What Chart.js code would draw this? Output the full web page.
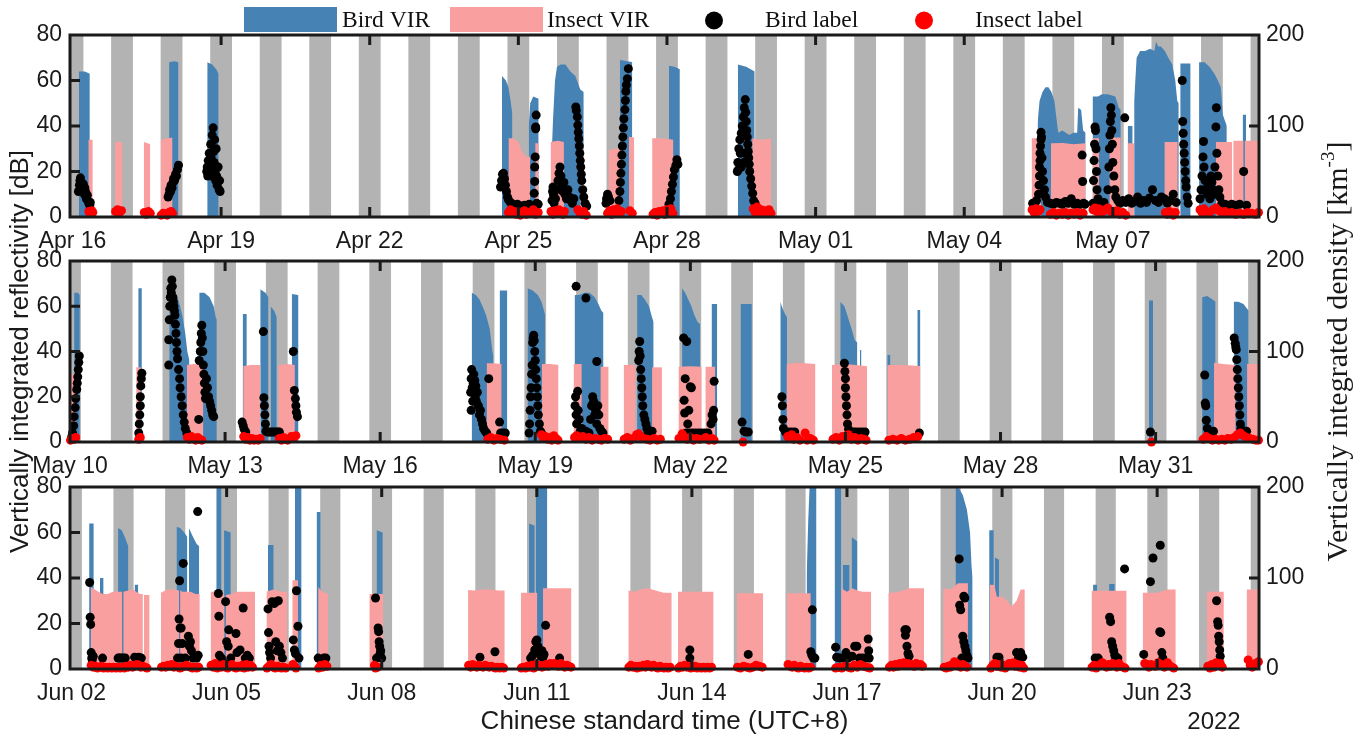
<!DOCTYPE html>
<html>
<head>
<meta charset="utf-8">
<title>Bird and insect VIR, spring 2022</title>
<script src="https://cdn.jsdelivr.net/npm/chart.js@4.4.1/dist/chart.umd.min.js"></script>
<style>
  html, body { margin: 0; padding: 0; background: #fff; }
  .layer { position: absolute; left: 0; top: 0; width: 1364px; height: 739px; }
</style>
</head>
<body>
<div class="layer"><canvas id="panel1" width="1364" height="739"></canvas></div>
<div class="layer"><canvas id="panel2" width="1364" height="739"></canvas></div>
<div class="layer"><canvas id="panel3" width="1364" height="739"></canvas></div>
<script>
// x values are days since the first date of each row (Apr 16, May 10, Jun 02)
const tickDays = [0, 3, 6, 9, 12, 15, 18, 21];
const ticksApr = ['Apr 16', 'Apr 19', 'Apr 22', 'Apr 25', 'Apr 28', 'May 01', 'May 04', 'May 07'];
const ticksMay = ['May 10', 'May 13', 'May 16', 'May 19', 'May 22', 'May 25', 'May 28', 'May 31'];
const ticksJun = ['Jun 02', 'Jun 05', 'Jun 08', 'Jun 11', 'Jun 14', 'Jun 17', 'Jun 20', 'Jun 23'];

// VIR in dB, one sub-array per continuous run of [day, value]
const birdVir1 = [
  [[0.13,64],[0.25,64],[0.35,63]],
  [[1.95,68],[2.05,68.5],[2.14,68]],
  [[2.72,68],[2.82,67],[2.90,65],[2.95,63]],
  [[8.67,62],[8.75,60],[8.80,57],[8.85,50],[8.88,45]],
  [[9.21,40],[9.24,50],[9.30,53],[9.41,52]],
  [[9.68,32],[9.70,43],[9.74,60],[9.78,66],[9.85,67],[9.95,67],[10.05,64],[10.15,62],[10.25,56],[10.32,55]],
  [[11.05,69],[11.20,68.5],[11.30,68]],
  [[12.04,66.5],[12.15,66],[12.26,65]],
  [[13.43,67],[13.60,66],[13.77,64]],
  [[19.48,41],[19.52,51],[19.58,55],[19.64,57],[19.70,57],[19.76,55],[19.82,51],[19.88,40],[19.90,37],[19.98,38],[20.05,37],[20.12,36],[20.20,37],[20.28,37],[20.30,48],[20.36,47],[20.40,38],[20.45,37]],
  [[20.59,53],[20.70,53],[20.78,54],[20.90,54],[21.05,53],[21.12,48],[21.16,47]],
  [[21.30,40],[21.40,40]],
  [[21.43,51],[21.48,70],[21.55,73],[21.65,73],[21.75,74],[21.84,73],[21.87,77],[21.92,75],[21.97,75],[22.05,73],[22.12,70],[22.20,67],[22.26,60],[22.30,51],[22.33,50]],
  [[22.36,67.5],[22.57,67.5]],
  [[22.74,68],[22.85,68],[22.95,66],[23.05,63],[23.12,60],[23.18,57],[23.22,45],[23.30,40]],
  [[23.62,45],[23.69,45]]
];
const insectVir1 = [
  [[0.32,34],[0.41,34]],
  [[0.86,33],[1.01,33]],
  [[1.44,33],[1.50,32.5],[1.57,32]],
  [[1.78,34],[1.90,34.5],[2.02,35]],
  [[8.80,34.6],[8.90,34.6],[9.00,33],[9.05,30],[9.12,27],[9.20,26.5],[9.24,26.5]],
  [[9.34,32.4],[9.41,32.4]],
  [[9.65,33],[9.80,33.5],[9.92,33]],
  [[10.25,30],[10.32,30]],
  [[10.82,29.5],[10.95,30],[11.06,30]],
  [[11.23,35.3],[11.34,35]],
  [[11.70,34.6],[11.90,34.6],[12.13,34]],
  [[13.72,34.6],[13.90,34],[14.10,34.5]],
  [[19.36,34.6],[19.55,34.6]],
  [[19.75,32.4],[20.00,32.5],[20.20,32],[20.45,32.4]],
  [[20.59,34.6],[20.72,34.6]],
  [[20.93,35],[21.16,35]],
  [[21.30,32.4],[21.43,32.4]],
  [[22.04,33],[22.31,33]],
  [[23.08,33],[23.35,33],[23.41,33]],
  [[23.43,33.5],[23.64,33.5]],
  [[23.66,33.5],[23.95,33.5]]
];
// labels as [day, density km^-3]
const birdLabel1 = [
  [0.12,28],[0.14,35],[0.15,40],[0.16,43],[0.18,38],[0.19,33],[0.21,30],[0.22,36],[0.24,25],[0.25,32],[0.27,27],[0.28,20],[0.30,24],[0.31,18],[0.33,15],[0.35,13],[0.36,16],
  [1.93,22],[1.95,25],[1.96,30],[1.98,28],[1.99,35],[2.01,32],[2.03,38],[2.04,42],[2.06,40],[2.08,47],[2.10,45],[2.12,52],[2.14,57],
  [2.71,50],[2.72,55],[2.73,45],[2.74,62],[2.75,48],[2.76,70],[2.77,58],[2.78,52],[2.79,80],[2.80,65],[2.81,45],[2.82,90],[2.83,55],[2.84,98],[2.85,72],[2.86,60],[2.87,85],[2.88,50],[2.89,40],[2.90,75],[2.91,45],[2.92,35],[2.94,55],[2.96,30],[2.97,40],[2.98,28],
  [8.64,33],[8.66,40],[8.68,47],[8.70,48],[8.72,42],[8.74,35],[8.76,28],[8.78,22],[8.80,19],[8.84,16],[8.88,14],[8.93,13],[8.98,14],[9.03,12],[9.08,12],[9.13,13],[9.18,12],[9.22,14],[9.32,26],[9.33,39],[9.33,55],[9.34,66],[9.35,97],[9.35,99],[9.36,112],[9.37,15],[9.40,14],
  [9.68,18],[9.69,28],[9.70,33],[9.71,24],[9.72,15],[9.75,20],[9.77,30],[9.80,40],[9.82,48],[9.84,55],[9.86,45],[9.88,35],[9.90,28],[9.92,38],[9.94,25],[9.97,20],[10.00,30],[10.03,22],[10.06,18],[10.09,15],[10.12,20],[10.16,121],[10.17,117],[10.19,110],[10.20,101],[10.21,93],[10.22,86],[10.23,78],[10.24,70],[10.25,62],[10.26,55],[10.27,47],[10.28,40],[10.30,30],[10.32,22],[10.35,15],[10.38,12],
  [10.77,15],[10.78,20],[10.80,25],[10.82,22],[10.85,18],[11.03,18],[11.05,28],[11.06,38],[11.07,48],[11.08,58],[11.09,68],[11.10,78],[11.11,88],[11.12,98],[11.13,108],[11.15,118],[11.16,128],[11.17,138],[11.18,145],[11.20,152],[11.22,163],
  [12.04,14],[12.07,20],[12.09,28],[12.11,36],[12.13,44],[12.15,52],[12.18,57],[12.20,63],[12.22,58],
  [13.42,50],[13.43,60],[13.44,52],[13.45,75],[13.47,85],[13.48,70],[13.50,92],[13.50,55],[13.52,100],[13.54,110],[13.55,60],[13.56,120],[13.57,70],[13.58,129],[13.59,115],[13.60,105],[13.61,95],[13.62,88],[13.63,80],[13.64,72],[13.65,65],[13.66,58],[13.67,50],[13.69,42],[13.71,34],[13.73,26],[13.75,18],[13.78,15],
  [19.38,15],[19.42,14],[19.46,18],[19.50,25],[19.51,35],[19.52,45],[19.52,55],[19.53,62],[19.53,70],[19.54,78],[19.55,85],[19.55,93],[19.56,88],[19.57,65],[19.58,50],[19.60,40],[19.62,30],[19.64,22],[19.68,16],[19.74,15],[19.80,14],[19.86,16],[19.92,15],[19.98,14],[20.04,17],[20.10,15],[20.16,20],[20.22,14],[20.28,15],[20.34,14],[20.38,68],[20.39,39],[20.41,15],[20.44,14],
  [20.60,15],[20.61,40],[20.62,62],[20.63,80],[20.64,99],[20.65,95],[20.66,75],[20.67,50],[20.68,30],[20.70,20],[20.75,15],[20.82,16],[20.90,30],[20.92,55],[20.93,75],[20.94,90],[20.95,105],[20.96,120],[20.97,112],[20.98,95],[20.99,80],[21.00,60],[21.02,45],[21.04,30],[21.06,22],[21.10,18],[21.14,15],[21.20,18],[21.24,109],[21.26,16],[21.32,20],[21.38,15],[21.44,17],[21.50,22],[21.56,15],[21.62,18],[21.68,16],[21.74,21],[21.80,30],[21.86,18],[21.92,16],[21.98,22],[22.04,20],[22.10,15],[22.16,18],[22.22,25],[22.28,16],
  [22.40,150],[22.41,105],[22.42,92],[22.43,80],[22.44,70],[22.45,60],[22.46,50],[22.47,40],[22.48,33],[22.50,22],[22.52,15],
  [22.76,20],[22.78,30],[22.80,45],[22.82,66],[22.83,83],[22.84,55],[22.86,40],[22.88,30],[22.90,25],[22.92,35],[22.94,28],[22.96,20],[22.98,45],[23.00,38],[23.02,30],[23.04,25],[23.06,55],[23.08,99],[23.09,120],[23.10,70],[23.12,45],[23.14,30],[23.16,22],[23.20,15],[23.26,14],[23.32,13],[23.40,14],[23.48,13],[23.56,14],[23.64,50],[23.70,13]
];
const insectLabel1 = [
  [0.33,6],[0.36,4],[0.39,7],[0.41,5],
  [0.87,6],[0.91,8],[0.95,5],[0.99,7],
  [1.45,5],[1.49,3],[1.53,6],[1.57,4],
  [1.79,2],[1.83,4],[1.87,3],[1.91,2],[1.95,5],[1.99,6],[2.02,4],
  [8.80,5],[8.84,8],[8.88,4],[8.92,6],[8.96,3],[9.00,5],[9.04,2],[9.08,4],[9.12,7],[9.16,3],[9.20,5],[9.25,4],[9.30,8],[9.35,3],[9.40,5],
  [9.66,6],[9.70,3],[9.74,7],[9.78,4],[9.82,8],[9.86,5],[9.90,3],[9.93,6],
  [10.20,8],[10.24,5],[10.28,3],[10.32,6],[10.37,2],
  [10.80,4],[10.84,7],[10.88,3],[10.92,8],[10.96,5],[11.00,9],[11.04,4],[11.08,6],
  [11.25,7],[11.30,4],
  [11.72,3],[11.76,5],[11.80,2],[11.84,6],[11.88,4],[11.92,7],[11.96,3],[12.00,8],[12.04,5],[12.08,9],[12.12,4],
  [13.74,9],[13.78,5],[13.82,11],[13.86,6],[13.90,8],[13.94,4],[13.98,7],[14.02,5],[14.06,8],[14.10,4],
  [19.37,8],[19.41,5],[19.45,9],[19.49,6],[19.53,8],
  [19.74,3],[19.80,5],[19.86,2],[19.92,4],[19.98,3],[20.04,5],[20.10,2],[20.16,4],[20.22,3],[20.28,5],[20.34,2],[20.40,4],
  [20.60,8],[20.64,10],[20.68,6],[20.72,9],[20.78,5],[20.84,8],[20.90,10],[20.96,6],[21.02,4],[21.08,7],[21.14,3],[21.20,5],[21.26,2],
  [22.06,5],[22.10,3],[22.14,6],[22.18,4],[22.22,2],[22.26,5],
  [22.76,8],[22.80,5],[22.84,9],[22.88,6],[22.95,4],[23.02,8],[23.08,10],[23.14,7],[23.20,5],[23.26,6],[23.32,4],[23.40,5],[23.48,3],[23.56,4],[23.64,3],[23.72,5],[23.80,4],[23.88,3],[23.94,5]
];

const birdVir2 = [
  [[0.08,66],[0.15,66],[0.19,65]],
  [[1.32,68],[1.39,68]],
  [[1.92,70],[1.97,68],[2.03,66],[2.08,64],[2.13,60],[2.18,55],[2.23,48],[2.27,40],[2.31,36]],
  [[2.50,66],[2.60,66],[2.70,64],[2.78,60],[2.82,55],[2.84,54]],
  [[3.34,56.6],[3.42,56.6]],
  [[3.68,67.5],[3.78,66],[3.84,64]],
  [[3.88,60],[3.95,58],[4.00,55]],
  [[4.29,65.4],[4.42,65]],
  [[7.77,66],[7.85,65],[7.92,63],[7.98,60],[8.05,56],[8.12,50],[8.17,40],[8.19,38]],
  [[8.31,67],[8.46,67]],
  [[8.85,68],[8.95,67],[9.05,65],[9.12,62],[9.17,58],[9.19,56]],
  [[9.76,65],[9.85,65],[9.95,66],[10.05,66],[10.15,64],[10.22,61],[10.28,58],[10.32,57]],
  [[10.97,65],[11.05,65],[11.12,63],[11.20,60],[11.26,55],[11.29,53]],
  [[11.84,68],[11.90,66],[11.96,63],[12.02,60],[12.08,56],[12.14,53],[12.19,52]],
  [[12.41,61],[12.52,61]],
  [[12.97,61],[13.19,61]],
  [[13.74,62],[13.80,58],[13.87,55]],
  [[14.90,62],[14.98,60],[15.05,55],[15.12,50],[15.18,45],[15.23,44]],
  [[15.28,40.7],[15.31,40.7]],
  [[15.81,38.5],[15.87,38.5]],
  [[16.39,58.3],[16.45,58.3]],
  [[20.87,62.5],[20.95,62.5]],
  [[21.90,64],[22.00,64.5],[22.10,63],[22.16,62]],
  [[22.51,62],[22.60,62],[22.70,61],[22.80,58]]
];
const insectVir2 = [
  [[0.00,30],[0.12,30]],
  [[1.28,33],[1.37,33]],
  [[2.26,34],[2.40,34.5],[2.58,34]],
  [[3.35,33.6],[3.50,34],[3.68,34]],
  [[4.03,34],[4.20,34.5],[4.35,34]],
  [[8.06,34.8],[8.20,34.8],[8.35,34.5]],
  [[9.13,34.5],[9.30,34.5],[9.45,34]],
  [[9.74,34.5],[9.90,34.5]],
  [[10.26,33.3],[10.42,33.3]],
  [[10.71,34],[10.94,34]],
  [[11.26,33],[11.45,33]],
  [[11.77,33.3],[12.00,33.5],[12.22,33.3]],
  [[12.29,33.3],[12.48,33.3]],
  [[13.86,34.5],[14.10,35],[14.42,34.5]],
  [[14.74,34],[15.00,34.5],[15.20,34],[15.42,33.5]],
  [[15.81,34],[16.10,34],[16.45,33.6]],
  [[22.13,35],[22.30,34.5],[22.55,34]],
  [[22.77,34.5],[23.00,34.5]]
];
const birdLabel2 = [
  [0.03,5],[0.05,10],[0.07,18],[0.08,28],[0.10,38],[0.11,48],[0.13,58],[0.14,65],[0.15,72],[0.16,80],[0.17,88],[0.18,95],
  [1.33,10],[1.34,20],[1.35,30],[1.36,40],[1.36,50],[1.37,62],[1.38,70],[1.39,76],
  [1.91,85],[1.91,113],[1.92,135],[1.93,150],[1.94,160],[1.95,170],[1.96,165],[1.97,179],[1.98,172],[1.99,160],[2.00,155],[2.01,150],[2.02,145],[2.03,140],[2.04,130],[2.05,120],[2.06,110],[2.07,100],[2.08,92],[2.10,80],[2.12,70],[2.13,60],[2.15,50],[2.17,40],[2.19,30],[2.21,22],[2.23,15],[2.26,10],
  [2.49,25],[2.50,90],[2.52,100],[2.53,110],[2.54,120],[2.55,129],[2.56,115],[2.57,100],[2.58,85],[2.59,75],[2.60,65],[2.61,55],[2.62,48],[2.64,70],[2.66,60],[2.68,50],[2.70,45],[2.72,40],[2.74,35],[2.76,30],[2.78,28],
  [3.33,22],[3.35,18],[3.37,14],[3.40,11],
  [3.74,122],[3.75,49],[3.76,40],[3.77,30],[3.78,20],[3.79,12],
  [3.82,11],[3.86,11],[3.90,11],[3.94,11],[3.98,11],[4.02,11],[4.05,11],
  [4.32,100],[4.34,57],[4.36,48],[4.37,40],[4.38,33],[4.40,28],
  [7.75,55],[7.76,70],[7.76,35],[7.77,80],[7.78,60],[7.79,45],[7.80,65],[7.81,75],[7.82,58],[7.83,68],[7.84,50],[7.85,62],[7.86,45],[7.88,55],[7.90,40],[7.92,30],[7.94,35],[7.96,25],[7.98,20],[8.00,15],[8.03,12],[8.06,10],[8.10,70],
  [8.31,22],[8.33,10],[8.38,10],[8.42,10],
  [8.88,10],[8.89,20],[8.90,35],[8.91,50],[8.92,60],[8.93,75],[8.94,85],[8.95,110],[8.96,115],[8.97,118],[8.98,112],[8.99,100],[9.00,90],[9.01,80],[9.02,70],[9.03,60],[9.04,50],[9.05,40],[9.06,30],[9.08,20],[9.10,12],[9.12,10],
  [9.79,172],[9.98,159],[10.19,89],[9.77,40],[9.78,50],[9.79,30],[9.80,20],[9.82,56],[9.83,35],[9.85,25],[9.87,12],[9.90,15],[9.93,10],[9.98,12],[10.04,10],[10.07,25],[10.09,40],[10.11,50],[10.13,45],[10.15,30],[10.17,35],[10.19,20],[10.21,40],[10.23,30],[10.25,15],[10.28,12],[10.31,10],
  [11.00,90],[11.01,100],[11.02,111],[11.03,95],[11.04,80],[11.05,70],[11.06,60],[11.07,50],[11.08,40],[11.10,30],[11.12,25],[11.14,20],[11.16,15],[11.18,10],[11.22,10],[11.26,12],
  [11.87,115],[11.88,46],[11.89,32],[11.90,70],[11.92,10],[11.93,111],[11.95,20],[11.97,35],[11.98,10],[12.00,61],[12.02,60],[12.04,10],[12.10,10],[12.16,10],[12.22,10],[12.28,10],[12.34,10],[12.40,20],[12.42,30],[12.44,25],[12.45,35],[12.46,67],
  [13.00,22],[13.04,12],[13.08,11],[13.12,11],
  [13.77,50],[13.78,40],[13.79,25],[13.80,15],[13.84,11],[13.90,11],[13.96,11],[14.02,11],
  [14.98,87],[14.99,78],[15.00,70],[15.00,60],[15.01,50],[15.02,40],[15.03,30],[15.04,20],[15.06,14],[15.10,11],[15.15,11],[15.20,11],[15.26,11],[15.32,11],[15.38,11],
  [16.43,10],[20.90,11],
  [21.95,74],[21.96,43],[21.97,40],[21.98,24],[22.00,15],[22.03,10],[22.06,12],[22.09,10],[22.12,12],
  [22.52,115],[22.54,109],[22.55,105],[22.56,102],[22.57,91],[22.58,80],[22.59,70],[22.60,60],[22.61,50],[22.62,40],[22.63,30],[22.64,20],[22.65,15],[22.68,12],[22.72,10],[22.76,12]
];
const insectLabel2 = [
  [0.01,2],[0.04,4],[0.08,3],[0.11,5],
  [1.33,3],[1.36,5],
  [2.27,5],[2.31,3],[2.35,6],[2.39,4],[2.43,2],[2.47,5],[2.51,3],[2.55,2],
  [3.36,6],[3.40,3],[3.44,5],[3.48,2],[3.52,4],[3.56,2],[3.60,3],[3.64,2],[3.68,4],
  [4.05,4],[4.09,2],[4.13,5],[4.17,3],[4.21,2],[4.28,6],[4.32,4],[4.37,7],
  [8.08,3],[8.14,5],[8.20,2],[8.26,4],[8.32,3],[8.40,2],
  [9.12,8],[9.16,4],[9.20,6],[9.24,3],[9.28,5],[9.32,2],[9.36,7],[9.40,4],[9.44,2],
  [9.76,5],[9.80,7],[9.86,4],[9.92,6],[9.98,3],[10.04,5],[10.10,2],[10.16,4],[10.22,3],[10.28,2],[10.34,4],[10.40,3],
  [10.72,3],[10.78,5],[10.84,2],[10.90,4],[10.96,8],[11.00,9],[11.04,6],[11.10,4],[11.16,3],[11.22,2],[11.30,4],[11.36,2],[11.42,3],
  [11.78,4],[11.84,9],[11.88,6],[11.94,3],[12.00,5],[12.06,2],[12.12,4],[12.18,3],[12.30,5],[12.36,2],[12.42,4],[12.46,2],
  [13.02,0],
  [13.88,6],[13.92,4],[13.96,8],[14.00,3],[14.06,5],[14.12,2],[14.22,10],[14.26,2],[14.32,4],[14.38,2],
  [14.76,3],[14.82,5],[14.88,2],[14.94,6],[15.00,4],[15.06,8],[15.12,3],[15.18,5],[15.24,2],[15.30,4],[15.36,3],[15.40,2],
  [15.84,2],[15.92,3],[16.00,2],[16.08,4],[16.16,2],[16.24,3],[16.32,5],[16.40,6],
  [20.92,0],
  [21.92,3],[21.98,6],[22.04,4],[22.10,2],[22.16,3],[22.22,2],[22.28,3],[22.34,2],[22.40,4],[22.46,3],[22.52,5],[22.58,8],[22.64,10],[22.70,7],[22.76,5],[22.82,4],[22.88,3],[22.94,2],[22.99,2]
];

const birdVir3 = [
  [[0.34,64],[0.43,64]],
  [[0.55,40],[0.62,40]],
  [[0.90,62],[0.97,61],[1.03,58],[1.08,55],[1.10,54]],
  [[1.22,37],[1.29,37]],
  [[2.03,62.5],[2.10,62],[2.18,60],[2.24,58]],
  [[2.27,62],[2.35,58],[2.42,55],[2.47,54]],
  [[2.80,82],[2.90,82]],
  [[2.95,61],[3.08,60]],
  [[3.80,54.5],[3.91,54.5]],
  [[4.32,82],[4.45,82]],
  [[4.74,69],[4.82,69]],
  [[5.90,61],[6.02,60]],
  [[8.85,64],[8.96,63]],
  [[8.98,82],[9.20,82]],
  [[14.22,40],[14.25,65],[14.28,82],[14.41,82]],
  [[14.76,82],[14.89,82]],
  [[14.92,45.7],[15.05,45.7]],
  [[15.09,58],[15.20,56]],
  [[17.10,82],[17.24,76.5],[17.32,70],[17.38,60],[17.41,45],[17.43,40]],
  [[17.75,61],[17.84,61]],
  [[17.86,49],[17.94,48]],
  [[18.21,28],[18.31,28]],
  [[19.76,37],[19.84,37]],
  [[20.07,37.4],[20.18,37.4]],
  [[22.11,32.5],[22.19,32.5]]
];
const insectVir3 = [
  [[0.37,36],[0.45,35],[0.52,34],[0.60,33],[0.70,33],[0.80,34],[0.90,34],[0.98,34]],
  [[1.00,34],[1.10,34.5],[1.20,35],[1.25,34],[1.32,33],[1.38,33]],
  [[1.40,32.5],[1.51,32.5]],
  [[1.73,33.5],[1.85,35],[2.00,35],[2.08,34.5]],
  [[2.10,34.5],[2.15,34],[2.30,34],[2.40,33],[2.48,33]],
  [[2.69,34],[2.80,34],[2.90,33],[2.96,32.5]],
  [[2.98,32.5],[3.10,33],[3.20,34],[3.30,34],[3.40,34],[3.55,34]],
  [[3.77,34],[3.90,35],[4.05,34],[4.17,34]],
  [[4.27,39],[4.38,39]],
  [[4.77,36],[4.85,34],[4.96,33]],
  [[5.76,33],[6.03,33]],
  [[7.67,34.7],[7.80,34.5],[7.95,35],[8.10,35],[8.25,34.5],[8.38,34.5]],
  [[8.69,33.5],[9.01,33.5]],
  [[9.12,35.5],[9.67,35.5]],
  [[10.77,34.5],[10.90,34],[11.00,35],[11.15,35.5],[11.30,34.5],[11.45,33.5],[11.61,33.5]],
  [[11.73,34],[12.42,34]],
  [[12.87,33.3],[13.38,33.3]],
  [[13.84,33.3],[14.30,33.3]],
  [[14.89,35.5],[15.00,34],[15.10,35.5],[15.20,34.5],[15.30,34],[15.47,34]],
  [[15.80,33.3],[16.00,34],[16.20,35.5],[16.49,35.5]],
  [[16.86,35.5],[17.00,35],[17.15,37.7],[17.34,37.7]],
  [[17.76,37],[17.85,36.9],[17.90,31.8],[18.00,31.8],[18.10,30],[18.18,27.4],[18.28,30],[18.36,35],[18.44,35]],
  [[19.73,34.4],[20.41,34.4]],
  [[20.72,33.5],[21.00,33.5],[21.20,35],[21.36,35]],
  [[21.96,34],[22.29,34]],
  [[22.73,35],[22.98,35]]
];
const birdLabel3 = [
  [0.35,95],[0.36,57],[0.37,49],[0.38,18],[0.39,12],[0.40,10],[0.42,14],
  [0.60,12],[0.90,12],[0.93,12],[0.96,12],[1.00,12],[1.04,12],[1.22,13],[1.26,12],[1.30,13],[1.35,12],
  [2.05,12],[2.07,28],[2.08,55],[2.09,97],[2.10,45],[2.12,45],[2.12,12],[2.14,28],[2.16,116],[2.20,12],[2.26,36],[2.28,25],[2.30,30],[2.32,20],[2.35,12],[2.42,12],[2.44,173],[2.45,15],
  [2.84,83],[2.85,58],[2.86,15],[2.90,12],[2.98,74],[3.00,30],[3.03,25],[3.04,43],[3.08,12],[3.18,39],[3.20,18],[3.26,21],[3.32,67],[3.36,12],[3.40,15],[3.44,12],
  [3.80,66],[3.81,40],[3.82,25],[3.83,18],[3.85,12],[3.88,74],[3.92,72],[3.95,30],[3.96,74],[3.98,20],[4.00,75],[4.02,25],[4.05,18],[4.08,12],
  [4.29,32],[4.31,21],[4.33,17],[4.35,86],[4.38,47],[4.40,12],
  [4.77,12],[4.88,12],[4.92,12],
  [5.88,78],[5.90,12],[5.93,45],[5.94,41],[5.95,30],[5.96,25],[5.97,17],[5.98,20],[6.00,12],
  [7.90,13],[8.19,19],
  [8.88,12],[8.92,15],[8.96,21],[8.98,30],[9.00,32],[9.02,25],[9.04,18],[9.08,14],[9.10,20],[9.12,13],[9.14,16],[9.17,48],[9.44,12],
  [11.96,21],[11.96,12],[13.09,16],
  [14.30,19],[14.32,15],[14.33,65],[14.35,12],[14.38,12],
  [14.78,24],[14.80,13],[14.86,12],[14.92,12],[14.98,18],[15.02,12],[15.10,14],[15.15,25],[15.19,25],[15.24,12],[15.30,12],[15.36,12],[15.41,33],[15.42,20],[15.43,12],
  [16.12,43],[16.13,37],[16.15,43],[16.16,25],[16.18,17],[16.20,14],
  [17.17,121],[17.18,70],[17.20,65],[17.22,12],[17.24,36],[17.26,80],[17.26,30],[17.28,78],[17.28,25],[17.30,20],[17.32,15],[17.34,12],
  [17.90,13],[17.94,13],[18.28,18],[18.32,13],[18.36,18],[18.40,13],
  [19.80,12],[19.86,12],[20.08,57],[20.10,52],[20.12,30],[20.14,25],[20.16,20],[20.18,15],[20.20,12],[20.24,12],
  [20.37,110],[20.74,16],[20.87,96],[20.92,122],[21.06,136],[21.05,41],[21.07,40],[21.09,18],[21.11,12],
  [22.15,75],[22.17,52],[22.18,48],[22.19,36],[22.20,30],[22.21,21],[22.22,14]
];
const insectLabel3 = [
  [0.38,4],[0.42,2],[0.46,3],[0.50,1],[0.54,2],[0.58,3],[0.62,1],[0.66,2],[0.70,1],[0.74,2],[0.78,1],[0.82,2],[0.86,1],[0.90,2],[0.94,1],[0.98,2],[1.02,1],[1.06,3],[1.10,2],[1.14,4],[1.18,2],[1.22,3],[1.26,5],[1.30,4],[1.34,2],[1.38,3],[1.42,2],[1.46,1],
  [1.74,2],[1.78,3],[1.82,2],[1.86,4],[1.90,3],[1.94,5],[1.98,2],[2.02,3],[2.06,2],[2.10,1],[2.14,2],[2.18,3],[2.22,4],[2.26,3],[2.30,2],[2.34,1],[2.38,2],[2.42,1],[2.46,2],
  [2.70,4],[2.74,2],[2.78,6],[2.82,1],[2.86,3],[2.90,2],[2.94,5],[2.98,2],[3.02,1],[3.06,3],[3.10,5],[3.14,2],[3.18,1],[3.22,3],[3.26,2],[3.30,4],[3.34,1],[3.38,5],[3.42,2],[3.46,4],[3.50,2],
  [3.78,1],[3.82,3],[3.86,5],[3.90,2],[3.94,1],[3.98,3],[4.02,2],[4.06,1],[4.10,2],[4.14,1],
  [4.28,5],[4.31,3],[4.34,1],
  [4.78,1],[4.82,4],[4.86,2],[4.90,5],[4.94,3],
  [5.86,4],[5.88,1],[5.92,2],
  [7.68,4],[7.72,2],[7.76,5],[7.80,3],[7.84,2],[7.88,4],[7.92,3],[7.96,2],[8.00,4],[8.04,3],[8.08,2],[8.12,3],[8.16,2],[8.20,1],[8.24,2],[8.28,1],[8.32,2],[8.36,1],
  [8.70,1],[8.74,2],[8.78,1],[8.82,3],[8.86,2],[8.90,4],[8.94,1],[8.98,5],[9.02,3],[9.06,4],[9.10,2],[9.14,3],[9.18,5],[9.22,3],[9.26,6],[9.30,4],[9.34,6],[9.38,5],[9.42,3],[9.46,6],[9.50,4],[9.54,2],[9.58,4],[9.62,3],[9.66,2],
  [10.78,2],[10.82,4],[10.86,2],[10.90,3],[10.94,1],[10.98,3],[11.02,2],[11.06,4],[11.10,2],[11.14,5],[11.18,3],[11.22,2],[11.26,4],[11.30,2],[11.34,1],[11.38,3],[11.42,2],[11.46,1],[11.50,2],[11.54,1],[11.58,2],
  [11.74,1],[11.78,3],[11.82,2],[11.86,4],[11.90,2],[11.94,3],[11.98,1],[12.02,2],[12.06,3],[12.10,1],[12.14,2],[12.18,1],[12.22,2],[12.26,1],[12.30,2],[12.34,1],[12.38,2],
  [12.88,2],[12.94,1],[13.00,3],[13.06,2],[13.12,1],[13.18,2],[13.24,4],[13.30,3],[13.36,2],
  [13.86,5],[13.90,3],[13.94,2],[13.98,4],[14.02,2],[14.06,1],[14.10,3],[14.14,2],[14.18,1],[14.22,2],[14.26,1],[14.30,2],
  [14.78,1],[14.84,2],[14.90,1],[14.96,3],[15.02,2],[15.08,1],[15.14,4],[15.20,2],[15.26,5],[15.32,3],[15.38,2],[15.44,1],
  [15.82,2],[15.86,4],[15.90,2],[15.94,5],[15.98,3],[16.02,6],[16.06,4],[16.10,7],[16.14,5],[16.18,6],[16.22,4],[16.26,5],[16.30,3],[16.34,6],[16.38,4],[16.42,5],[16.46,3],
  [16.88,2],[16.92,1],[16.96,3],[17.00,2],[17.04,5],[17.08,8],[17.12,6],[17.16,4],[17.20,2],[17.24,5],[17.28,3],[17.32,2],
  [17.78,1],[17.82,4],[17.86,6],[17.90,3],[17.94,5],[17.98,2],[18.02,4],[18.06,1],[18.10,3],[18.14,6],[18.18,4],[18.22,7],[18.26,3],[18.30,5],[18.34,2],[18.38,4],[18.42,1],
  [19.74,2],[19.78,4],[19.82,1],[19.86,3],[19.90,5],[19.94,7],[19.98,4],[20.02,2],[20.06,5],[20.10,3],[20.14,6],[20.18,4],[20.22,2],[20.26,6],[20.30,3],[20.34,2],[20.38,1],
  [20.76,6],[20.80,5],[20.84,2],[20.88,5],[20.96,3],[21.02,7],[21.08,5],[21.14,2],[21.20,7],[21.26,3],[21.32,1],
  [21.98,3],[22.02,1],[22.06,5],[22.10,2],[22.14,7],[22.18,4],[22.22,6],[22.26,2],
  [22.76,10],[22.80,4],[22.84,2],[22.90,6],[22.96,8]
];

const BLUE = '#4682b4';
const PINK = '#fa9f9f';
const NIGHT = '#b3b3b3';
const INK = '#1a1a1a';
const SANS = '"Liberation Sans", Arial, sans-serif';
const SERIF = '"Liberation Serif", "Times New Roman", serif';

// runs of [day, value] -> point list with a null between runs so the fill breaks
function runsToPoints(runs) {
  const pts = [];
  runs.forEach(run => {
    run.forEach(([x, y]) => pts.push({ x, y }));
    pts.push({ x: run[run.length - 1][0], y: null });
  });
  return pts;
}
const toPoints = list => list.map(([x, y]) => ({ x, y }));

// grey bars for the night hours
const nightBands = {
  id: 'nightBands',
  beforeDatasetsDraw(chart, args, opts) {
    const { ctx, chartArea: a, scales: { x } } = chart;
    ctx.save();
    ctx.fillStyle = NIGHT;
    for (let d = Math.floor(x.min) - 1; d <= Math.ceil(x.max); d++) {
      const x0 = Math.max(x.getPixelForValue(d + opts.dusk), a.left);
      const x1 = Math.min(x.getPixelForValue(d + 1 + opts.dawn), a.right);
      if (x1 > x0) ctx.fillRect(x0, a.top, x1 - x0, a.bottom - a.top);
    }
    ctx.restore();
  }
};

// box around the plot with inward tick marks
const boxFrame = {
  id: 'boxFrame',
  afterDatasetsDraw(chart) {
    const { ctx, chartArea: a, scales: { x, y, y2 } } = chart;
    const len = 10;
    ctx.save();
    ctx.strokeStyle = INK;
    ctx.lineWidth = 3;
    ctx.beginPath();
    x.ticks.forEach(t => {
      const px = x.getPixelForValue(t.value);
      if (px < a.left + 4 || px > a.right - 4) return;
      ctx.moveTo(px, a.bottom); ctx.lineTo(px, a.bottom - len);
      ctx.moveTo(px, a.top); ctx.lineTo(px, a.top + len);
    });
    y.ticks.forEach(t => {
      if (t.value <= y.min || t.value >= y.max) return;
      const py = y.getPixelForValue(t.value);
      ctx.moveTo(a.left, py); ctx.lineTo(a.left + len, py);
    });
    y2.ticks.forEach(t => {
      if (t.value <= y2.min || t.value >= y2.max) return;
      const py = y2.getPixelForValue(t.value);
      ctx.moveTo(a.right, py); ctx.lineTo(a.right - len, py);
    });
    ctx.stroke();
    ctx.strokeRect(a.left, a.top, a.right - a.left, a.bottom - a.top);
    ctx.restore();
  }
};

// legend row above the first panel
const legendRow = {
  id: 'legendRow',
  afterDraw(chart) {
    const ctx = chart.ctx;
    const slots = [
      { mark: 244, text: 342 }, { mark: 450, text: 547 },
      { mark: 714, text: 765 }, { mark: 924, text: 975 }
    ];
    ctx.save();
    ctx.font = `23.5px ${SERIF}`;
    ctx.textBaseline = 'middle';
    chart.data.datasets.forEach((ds, i) => {
      const s = slots[i];
      if (ds.type === 'scatter') {
        ctx.fillStyle = ds.pointBackgroundColor;
        ctx.beginPath();
        ctx.arc(s.mark, 20.5, 9, 0, Math.PI * 2);
        ctx.fill();
      } else {
        ctx.fillStyle = ds.backgroundColor;
        ctx.fillRect(s.mark, 7, 93, 25);
      }
      ctx.fillStyle = '#111';
      ctx.fillText(ds.label, s.text, 21);
    });
    ctx.restore();
  }
};

// shared y titles, drawn once around the middle panel
const sideTitles = {
  id: 'sideTitles',
  afterDraw(chart) {
    const ctx = chart.ctx;
    const mid = (chart.chartArea.top + chart.chartArea.bottom) / 2;
    ctx.save();
    ctx.fillStyle = INK;
    ctx.textBaseline = 'middle';
    ctx.save();
    ctx.translate(21, mid);
    ctx.rotate(-Math.PI / 2);
    ctx.textAlign = 'center';
    ctx.font = `26px ${SANS}`;
    ctx.fillText('Vertically integrated reflectivity [dB]', 0, 0);
    ctx.restore();

    ctx.translate(1339, mid);
    ctx.rotate(-Math.PI / 2);
    ctx.textAlign = 'left';
    const main = 'Vertically integrated density [km', sup = '-3', tail = ']';
    ctx.font = `30px ${SERIF}`;
    const wMain = ctx.measureText(main).width, wTail = ctx.measureText(tail).width;
    ctx.font = `19px ${SERIF}`;
    const wSup = ctx.measureText(sup).width;
    let x = -(wMain + wSup + wTail) / 2;
    ctx.font = `30px ${SERIF}`;
    ctx.fillText(main, x, 0);
    x += wMain;
    ctx.font = `19px ${SERIF}`;
    ctx.fillText(sup, x, -10);
    x += wSup;
    ctx.font = `30px ${SERIF}`;
    ctx.fillText(tail, x, 0);
    ctx.restore();
  }
};

const yearLabel = {
  id: 'yearLabel',
  afterDraw(chart) {
    const ctx = chart.ctx;
    ctx.save();
    ctx.fillStyle = INK;
    ctx.font = `24px ${SANS}`;
    ctx.textAlign = 'center';
    ctx.textBaseline = 'middle';
    ctx.fillText('2022', 1214, 722);
    ctx.restore();
  }
};

function makePanel(canvasId, cfg) {
  const tickFont = { family: SANS, size: 23 };
  return new Chart(document.getElementById(canvasId), {
    type: 'line',
    data: {
      datasets: [
        { label: 'Bird VIR', data: runsToPoints(cfg.birdVir), yAxisID: 'y', order: 4,
          backgroundColor: BLUE, borderColor: 'rgba(0,0,0,0)', borderWidth: 0,
          pointRadius: 0, fill: 'origin', spanGaps: false },
        { label: 'Insect VIR', data: runsToPoints(cfg.insectVir), yAxisID: 'y', order: 3,
          backgroundColor: PINK, borderColor: 'rgba(0,0,0,0)', borderWidth: 0,
          pointRadius: 0, fill: 'origin', spanGaps: false },
        { type: 'scatter', label: 'Bird label', data: toPoints(cfg.birdLabel), yAxisID: 'y2', order: 2,
          pointRadius: 4.5, pointBackgroundColor: '#000', pointBorderWidth: 0, clip: false },
        { type: 'scatter', label: 'Insect label', data: toPoints(cfg.insectLabel), yAxisID: 'y2', order: 1,
          pointRadius: 4.5, pointBackgroundColor: '#ff0000', pointBorderWidth: 0, clip: false }
      ]
    },
    options: {
      responsive: false,
      animation: false,
      events: [],
      layout: { padding: { top: cfg.top, bottom: cfg.bottom, left: 0, right: 0 } },
      plugins: {
        legend: { display: false },
        tooltip: { enabled: false },
        nightBands: { dusk: cfg.dusk, dawn: cfg.dawn }
      },
      scales: {
        x: {
          type: 'linear', min: cfg.min, max: cfg.max,
          grid: { display: false, drawTicks: false }, border: { display: false },
          afterBuildTicks: s => { s.ticks = tickDays.map(v => ({ value: v })); },
          afterFit: s => { s.height = cfg.xHeight; },
          ticks: { autoSkip: false, maxRotation: 0, padding: 11, color: INK, font: tickFont,
                   callback: (v, i) => cfg.labels[i] },
          title: { display: !!cfg.xTitle, text: cfg.xTitle || '', color: INK,
                   font: { family: SANS, size: 26 }, padding: { top: 0, bottom: 2 } }
        },
        y: {
          position: 'left', min: 0, max: 80,
          grid: { display: false, drawTicks: false }, border: { display: false },
          afterFit: s => { s.width = 70; },
          ticks: { stepSize: 20, padding: 8, color: INK, font: tickFont }
        },
        y2: {
          position: 'right', min: 0, max: 200,
          grid: { display: false, drawTicks: false }, border: { display: false },
          afterFit: s => { s.width = 105; },
          ticks: { stepSize: 100, padding: 7, color: INK, font: tickFont }
        }
      }
    },
    plugins: [nightBands, boxFrame].concat(cfg.extra)
  });
}

makePanel('panel1', {
  min: -0.05, max: 23.95, top: 35, bottom: 484, xHeight: 38, dusk: 0.78, dawn: 0.22,
  labels: ticksApr, birdVir: birdVir1, insectVir: insectVir1,
  birdLabel: birdLabel1, insectLabel: insectLabel1, extra: [legendRow]
});
makePanel('panel2', {
  min: 0, max: 23, top: 261, bottom: 259, xHeight: 38, dusk: 0.79, dawn: 0.21,
  labels: ticksMay, birdVir: birdVir2, insectVir: insectVir2,
  birdLabel: birdLabel2, insectLabel: insectLabel2, extra: [sideTitles]
});
makePanel('panel3', {
  min: -0.03, max: 22.97, top: 487, bottom: 0, xHeight: 70, dusk: 0.81, dawn: 0.20,
  labels: ticksJun, birdVir: birdVir3, insectVir: insectVir3,
  birdLabel: birdLabel3, insectLabel: insectLabel3,
  xTitle: 'Chinese standard time (UTC+8)', extra: [yearLabel]
});
</script>
</body>
</html>
